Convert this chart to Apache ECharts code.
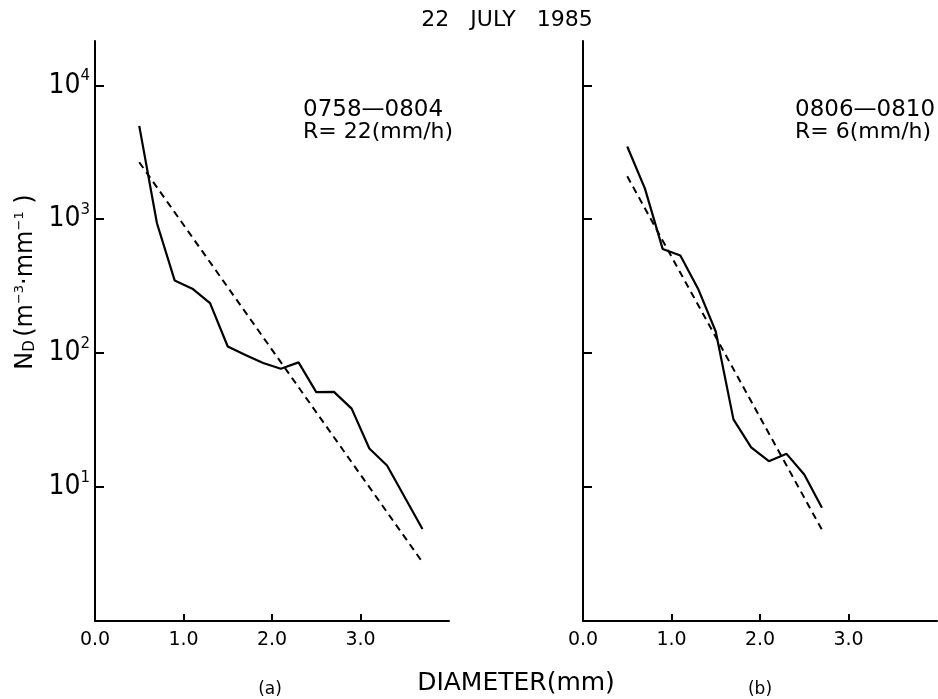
<!DOCTYPE html>
<html><head><meta charset="utf-8">
<script src="https://cdn.jsdelivr.net/npm/echarts@6/dist/echarts.min.js"></script>
<style>html,body{margin:0;padding:0;background:#fff}#c{width:938px;height:699px}</style>
</head><body><div id="c"></div>
<script>
// Panel (a): 0758-0804, R = 22 mm/h
const diameterA = [0.5, 0.7, 0.9, 1.1, 1.3, 1.5, 1.7, 1.9, 2.1, 2.3, 2.5, 2.7, 2.9, 3.1, 3.3, 3.5, 3.7];
const measuredA = [4970, 933, 349, 303, 236, 112, 97, 84.5, 76.5, 85.3, 51.2, 51.4, 38.5, 19.4, 14.5, 8.4, 4.87];
const fitDiameterA = [0.5, 3.7];
const fitA = [2660, 2.75];
// Panel (b): 0806-0810, R = 6 mm/h
const diameterB = [0.5, 0.7, 0.9, 1.1, 1.3, 1.5, 1.7, 1.9, 2.1, 2.3, 2.5, 2.7];
const measuredB = [3490, 1690, 600, 535, 303, 145, 32, 19.8, 15.6, 17.7, 12.4, 7.0];
const fitDiameterB = [0.5, 2.7];
const fitB = [2090, 4.8];
// Axes
const xTicks = [0, 1, 2, 3];
const yTicks = [10, 100, 1000, 10000];
const xRange = [0, 4];
const yRange = [1, 21400];

const pairs = (xs, ys) => xs.map((x, i) => [x, ys[i]]);
const FONT = "'DejaVu Sans', sans-serif";

function xAxis(gi) {
  return {
    type: 'value', gridIndex: gi, min: xRange[0], max: xRange[1],
    axisLine: {show: true, onZero: false, lineStyle: {color: '#000', width: 2}},
    axisTick: {show: true, inside: true, length: 7, customValues: xTicks, lineStyle: {color: '#000', width: 2}},
    axisLabel: {show: true, customValues: xTicks, margin: 10, color: '#000', fontSize: 19, fontFamily: FONT,
      formatter: v => v.toFixed(1)},
    splitLine: {show: false}
  };
}
function yAxis(gi, labels) {
  return {
    type: 'log', logBase: 10, gridIndex: gi, min: yRange[0], max: yRange[1],
    axisLine: {show: true, onZero: false, lineStyle: {color: '#000', width: 2}},
    axisTick: {show: true, inside: true, length: 9, customValues: yTicks, lineStyle: {color: '#000', width: 2}},
    axisLabel: {show: labels, customValues: yTicks, margin: 5, color: '#000',
      formatter: v => {
        const e = Math.round(Math.log10(v));
        return '{b|10}{s|' + e + '}';
      },
      rich: {
        b: {fontSize: 28, fontFamily: "'Liberation Sans Narrow', 'DejaVu Sans Condensed', 'Liberation Sans', sans-serif", color: '#000'},
        s: {fontSize: 15, fontFamily: FONT, color: '#000', padding: [0, 0, 18, 0]}
      }
    },
    splitLine: {show: false}
  };
}
function solid(gi, data) {
  return {type: 'line', xAxisIndex: gi, yAxisIndex: gi, data, showSymbol: false, symbol: 'none',
    lineStyle: {color: '#000', width: 2.2}, animation: false, z: 3};
}
function dashed(gi, data) {
  return {type: 'line', xAxisIndex: gi, yAxisIndex: gi, data, showSymbol: false, symbol: 'none',
    lineStyle: {color: '#000', width: 2, type: [7, 5]}, animation: false, z: 2};
}
function txt(x, y, text, size, align) {
  return {type: 'text', x, y, style: {text, fill: '#000', fontSize: size, fontFamily: FONT,
    textAlign: align || 'left', textVerticalAlign: 'middle'}};
}

const chart = echarts.init(document.getElementById('c'), null, {renderer: 'canvas'});
chart.setOption({
  animation: false,
  backgroundColor: '#fff',
  grid: [
    {left: 95, top: 41, width: 354, height: 580},
    {left: 583, top: 41, width: 354, height: 580}
  ],
  xAxis: [xAxis(0), xAxis(1)],
  yAxis: [yAxis(0, true), yAxis(1, false)],
  series: [
    solid(0, pairs(diameterA, measuredA)),
    dashed(0, pairs(fitDiameterA, fitA)),
    solid(1, pairs(diameterB, measuredB)),
    dashed(1, pairs(fitDiameterB, fitB))
  ],
  graphic: [
    txt(507, 20, '22   JULY   1985', 22, 'center'),
    txt(303, 110, '0758\u20140804', 23, 'left'),
    txt(303, 132, 'R= 22(mm/h)', 22, 'left'),
    txt(795, 110, '0806\u20140810', 23, 'left'),
    txt(795, 132, 'R= 6(mm/h)', 22, 'left'),
    txt(516, 683, 'DIAMETER(mm)', 25, 'center'),
    txt(270, 690, '(a)', 17, 'center'),
    txt(760, 690, '(b)', 17, 'center'),
    {type: 'text', x: 26, y: 282, rotation: Math.PI / 2,
      style: {text: '{n|N}{d|D} {n|(m}{u|\u22123}{n|\u00b7mm}{u|\u22121}{n| )}', fill: '#000',
        textAlign: 'center', textVerticalAlign: 'middle',
        rich: {
          n: {fontSize: 24, fontFamily: FONT, fill: '#000'},
          d: {fontSize: 15, fontFamily: FONT, fill: '#000', padding: [8, 0, 0, 0]},
          u: {fontSize: 13, fontFamily: FONT, fill: '#000', padding: [0, 0, 12, 0]}
        }}}
  ]
});
</script></body></html>
